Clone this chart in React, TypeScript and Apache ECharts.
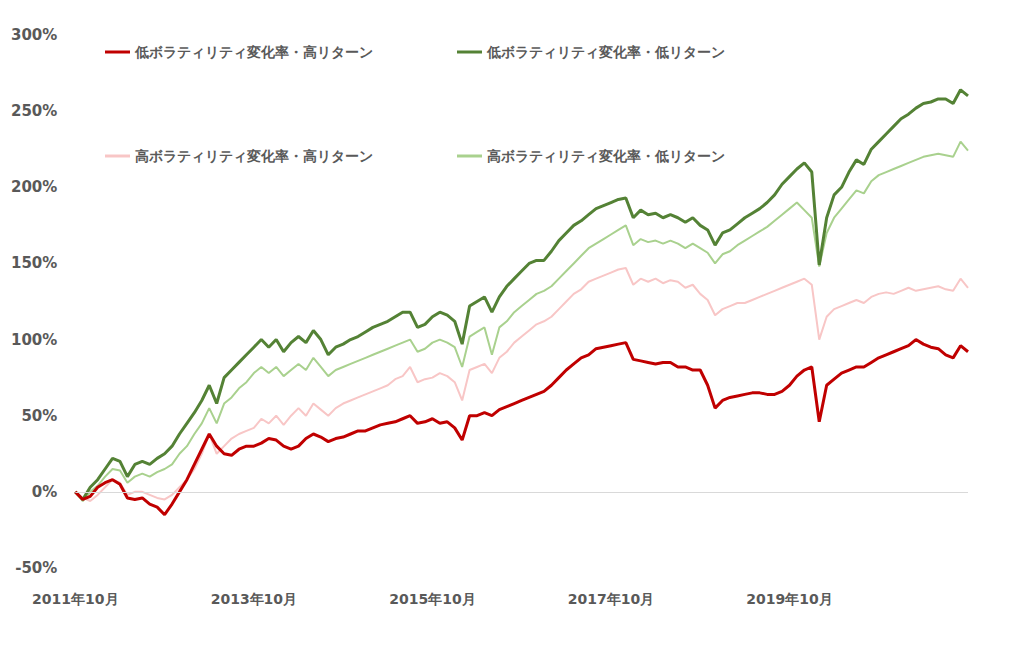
import { useRef, useEffect } from "react";
import * as echarts from "echarts";

// 月次 2011年10月〜2021年10月
const months: string[] = [];
for (let i = 0; i <= 120; i++) {
  const y = 2011 + Math.floor((9 + i) / 12);
  const m = ((9 + i) % 12) + 1;
  months.push(`${y}年${m}月`);
}

const seriesNames = [
  "低ボラティリティ変化率・高リターン",
  "低ボラティリティ変化率・低リターン",
  "高ボラティリティ変化率・高リターン",
  "高ボラティリティ変化率・低リターン",
];

const lowVolHighRet = [
  0, -5, -3, 3, 6, 8, 5, -4, -5, -4, -8, -10, -15, -8, 0, 8, 18, 28, 38, 30, 25, 24, 28, 30, 30,
  32, 35, 34, 30, 28, 30, 35, 38, 36, 33, 35, 36, 38, 40, 40, 42, 44, 45, 46, 48, 50, 45, 46, 48, 45,
  46, 42, 34, 50, 50, 52, 50, 54, 56, 58, 60, 62, 64, 66, 70, 75, 80, 84, 88, 90,
  94, 95, 96, 97, 98, 87, 86, 85, 84, 85, 85, 82, 82, 80, 80, 70, 55, 60, 62, 63,
  64, 65, 65, 64, 64, 66, 70, 76, 80, 82, 46, 70, 74, 78, 80, 82, 82, 85, 88, 90,
  92, 94, 96, 100, 97, 95, 94, 90, 88, 96, 92,
];
const lowVolLowRet = [
  0, -5, 3, 8, 15, 22, 20, 10, 18, 20, 18, 22, 25, 30, 38, 45, 52, 60, 70, 58, 75, 80, 85, 90, 95,
  100, 95, 100, 92, 98, 102, 98, 106, 100, 90, 95, 97, 100, 102, 105, 108, 110, 112, 115, 118, 118, 108, 110, 115, 118,
  116, 112, 97, 122, 125, 128, 118, 128, 135, 140, 145, 150, 152, 152, 158, 165, 170, 175, 178, 182,
  186, 188, 190, 192, 193, 180, 185, 182, 183, 180, 182, 180, 177, 180, 175, 172, 162, 170, 172, 176,
  180, 183, 186, 190, 195, 202, 207, 212, 216, 210, 149, 180, 195, 200, 210, 218, 215, 225, 230, 235,
  240, 245, 248, 252, 255, 256, 258, 258, 255, 264, 260,
];
const highVolHighRet = [
  0, -4, -6, -2, 3, 8, 6, -2, 0, 0, -2, -4, -5, -2, 3, 8, 15, 25, 38, 25, 30, 35, 38, 40, 42,
  48, 45, 50, 44, 50, 55, 50, 58, 54, 50, 55, 58, 60, 62, 64, 66, 68, 70, 74, 76, 82, 72, 74, 75, 78,
  76, 72, 60, 80, 82, 84, 78, 88, 92, 98, 102, 106, 110, 112, 115, 120, 125, 130, 133, 138,
  140, 142, 144, 146, 147, 136, 140, 138, 140, 137, 139, 138, 134, 136, 130, 126, 116, 120, 122, 124,
  124, 126, 128, 130, 132, 134, 136, 138, 140, 136, 100, 115, 120, 122, 124, 126, 124, 128, 130, 131,
  130, 132, 134, 132, 133, 134, 135, 133, 132, 140, 134,
];
const highVolLowRet = [
  0, -6, 0, 4, 10, 15, 14, 6, 10, 12, 10, 13, 15, 18, 25, 30, 38, 45, 55, 45, 58, 62, 68, 72, 78,
  82, 78, 82, 76, 80, 84, 80, 88, 82, 76, 80, 82, 84, 86, 88, 90, 92, 94, 96, 98, 100, 92, 94, 98, 100,
  98, 95, 82, 102, 105, 108, 90, 108, 112, 118, 122, 126, 130, 132, 135, 140, 145, 150, 155, 160,
  163, 166, 169, 172, 175, 162, 166, 164, 165, 163, 165, 163, 160, 163, 160, 157, 150, 156, 158, 162,
  165, 168, 171, 174, 178, 182, 186, 190, 185, 180, 148, 170, 180, 186, 192, 198, 196, 204, 208, 210,
  212, 214, 216, 218, 220, 221, 222, 221, 220, 230, 224,
];

const colors = ["#C00000", "#548235", "#F8C6C6", "#A9D18E"];
const widths = [3, 3, 2, 2];
const values = [lowVolHighRet, lowVolLowRet, highVolHighRet, highVolLowRet];
const zs = [4, 3, 2, 1];

const textColor = "#595959";
const font = "Verdana, 'DejaVu Sans', sans-serif";

const legendBase = {
  left: 92,
  itemWidth: 25,
  itemHeight: 3,
  itemGap: 84,
  icon: "rect",
  textStyle: { color: textColor, fontSize: 14, fontWeight: "bold" as const, fontFamily: font },
};

const App = () => {
  const chartRef = useRef<HTMLDivElement>(null);

  useEffect(() => {
    const myChart = echarts.init(chartRef.current, null, { renderer: "svg" });
    myChart.setOption({
      animation: false,
      legend: [
        { ...legendBase, top: 32, data: [seriesNames[0], seriesNames[1]] },
        { ...legendBase, top: 136, data: [seriesNames[2], seriesNames[3]] },
      ],
      grid: { left: 64, right: 50, top: 27, bottom: 81 },
      xAxis: {
        type: "category",
        data: months,
        boundaryGap: false,
        axisLine: { show: false },
        axisTick: { show: false },
        axisLabel: {
          interval: (i: number) => i % 24 === 0 && i < 120,
          margin: 24,
          color: textColor,
          fontSize: 14,
          fontWeight: "bold",
          fontFamily: font,
        },
      },
      yAxis: {
        type: "value",
        min: -50,
        max: 300,
        interval: 50,
        splitLine: { show: false },
        axisLabel: {
          formatter: "{value}%",
          margin: 18,
          color: textColor,
          fontSize: 15,
          fontWeight: "bold",
          fontFamily: font,
        },
      },
      series: seriesNames.map((name, i) => ({
        name,
        type: "line",
        data: values[i],
        symbol: "none",
        z: zs[i],
        itemStyle: { color: colors[i] },
        lineStyle: { color: colors[i], width: widths[i] },
        ...(i === 3
          ? {
              markLine: {
                silent: true,
                symbol: "none",
                label: { show: false },
                lineStyle: { color: "#d9d9d9", type: "solid", width: 1 },
                data: [{ yAxis: 0 }],
              },
            }
          : {}),
      })),
    });
    return () => {
      myChart.dispose();
    };
  }, []);

  return <div ref={chartRef} style={{ width: "1010px", height: "641px" }}></div>;
};

export default App;
